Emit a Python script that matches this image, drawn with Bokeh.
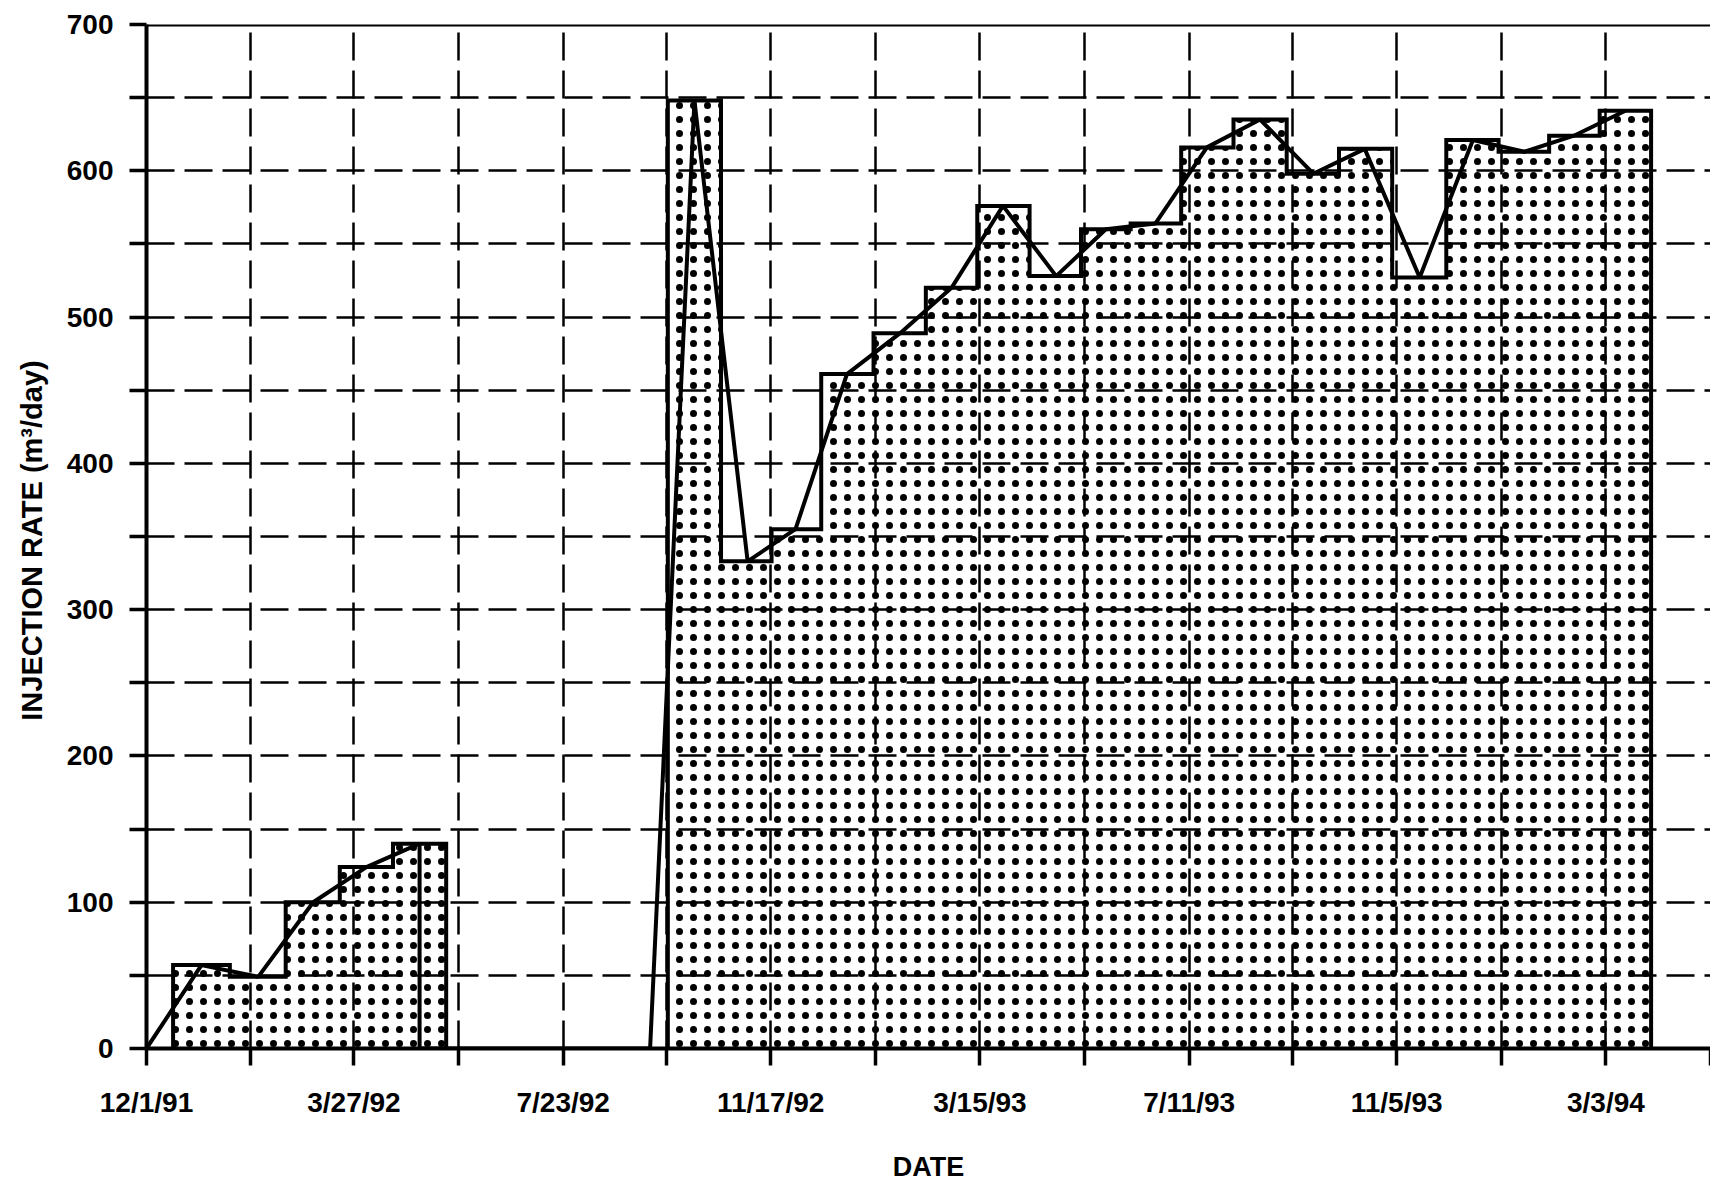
import pandas as pd
from bokeh.plotting import figure
from bokeh.models import FixedTicker, Span, Range1d
from bokeh.embed import file_html
from bokeh.resources import INLINE

# ---------------- data ----------------
origin_date = "1991-12-01"          # left end of the date axis
axis_end_date = "1994-05-01"        # right end of the date axis
tick_labels = ["12/1/91", "3/27/92", "7/23/92", "11/17/92",
               "3/15/93", "7/11/93", "11/5/93", "3/3/94"]

# first injection period (monthly rates, m3/day)
seg1_dates = ["1992-01-01", "1992-02-02", "1992-03-04", "1992-04-03", "1992-05-03"]
seg1_rates = [57, 49, 100, 124, 140]

# second injection period
seg2_dates = ["1992-10-05", "1992-11-04", "1992-12-01", "1992-12-30", "1993-01-29",
              "1993-02-27", "1993-03-28", "1993-04-27", "1993-05-25", "1993-06-22",
              "1993-07-21", "1993-08-20", "1993-09-19", "1993-10-18", "1993-11-18",
              "1993-12-18", "1994-01-16", "1994-02-13", "1994-03-14"]
seg2_rates = [648, 333, 355, 461, 489, 520, 576, 528, 560, 564,
              616, 635, 598, 615, 527, 621, 613, 624, 641]

# zero-rate points of the trend line before each period
zero_dates = ["1991-12-01", "1992-09-10"]

y_max = 700
y_step = 50
y_label_step = 100

# ---------------- helpers ----------------
t0 = pd.Timestamp(origin_date)


def day(d):
    return float((pd.Timestamp(d) - t0).days)


def label_day(s):
    return float((pd.to_datetime(s, format="%m/%d/%y") - t0).days)


def step_outline(days, rates):
    edges = ([days[0] - (days[1] - days[0]) / 2]
             + [(a + b) / 2 for a, b in zip(days[:-1], days[1:])]
             + [days[-1] + (days[-1] - days[-2]) / 2])
    xs, ys = [edges[0]], [0]
    for i, r in enumerate(rates):
        xs += [edges[i], edges[i + 1]]
        ys += [r, r]
    xs.append(edges[-1])
    ys.append(0)
    return xs, ys


s1 = [day(d) for d in seg1_dates]
s2 = [day(d) for d in seg2_dates]
x_end = day(axis_end_date)

o1x, o1y = step_outline(s1, seg1_rates)
o2x, o2y = step_outline(s2, seg2_rates)

line_x = [day(zero_dates[0])] + s1 + [s1[-1], day(zero_dates[1])] + s2
line_y = [0] + seg1_rates + [0, 0] + seg2_rates

lab_days = [label_day(s) for s in tick_labels]
mid_days = [(a + b) / 2 for a, b in zip(lab_days[:-1], lab_days[1:])]
x_ticks = sorted(lab_days + mid_days + [x_end])
x_over = {t: "" for t in x_ticks}
for t, s in zip(lab_days, tick_labels):
    x_over[t] = s

y_ticks = list(range(0, y_max + 1, y_step))
y_over = {t: (str(t) if t % y_label_step == 0 else "") for t in y_ticks}

# ---------------- figure ----------------
FONT = "Liberation Sans"
p = figure(width=1710, height=1184, x_range=Range1d(0, x_end), y_range=Range1d(0, y_max),
           output_backend="svg", toolbar_location=None,
           min_border_left=146, min_border_right=0, min_border_top=24, min_border_bottom=134)
p.outline_line_color = None
p.background_fill_color = "white"

for ax, ticks, over in ((p.xaxis[0], x_ticks, x_over), (p.yaxis[0], y_ticks, y_over)):
    ax.ticker = FixedTicker(ticks=ticks)
    ax.major_label_overrides = over
    ax.axis_line_width = 4
    ax.axis_line_color = "black"
    ax.major_tick_line_width = 3.5
    ax.major_tick_line_color = "black"
    ax.major_tick_out = 17
    ax.major_tick_in = 0
    ax.minor_tick_line_color = None
    ax.major_label_text_font = FONT
    ax.major_label_text_font_style = "bold"
    ax.major_label_text_font_size = "28px"
    ax.major_label_text_color = "black"
    ax.axis_label_text_font = FONT
    ax.axis_label_text_font_style = "bold"
    ax.axis_label_text_color = "black"

p.xaxis.axis_label = "DATE"
p.xaxis.axis_label_text_font_size = "27px"
p.xaxis.major_label_standoff = 21
p.xaxis.axis_label_standoff = 31
p.yaxis.axis_label = "INJECTION RATE  (m\u00b3/day)"
p.yaxis.axis_label_text_font_size = "29px"
p.yaxis.major_label_standoff = 16
p.yaxis.axis_label_standoff = 16

for g in (p.xgrid[0], p.ygrid[0]):
    g.grid_line_color = "black"
    g.grid_line_width = 2.5
    g.grid_line_dash = "28 10"

# stippled stepped area
p.patches(xs=[o1x, o2x], ys=[o1y, o2y], fill_alpha=0, line_color=None,
          hatch_pattern="dot", hatch_scale=14, hatch_weight=0.8, hatch_color="black")
p.multi_line(xs=[o1x, o2x], ys=[o1y, o2y], line_color="black", line_width=4,
             line_join="miter")
# trend line
p.line(line_x, line_y, line_color="black", line_width=4)

p.add_layout(Span(location=y_max, dimension="width", line_color="black", line_width=4))

open("out.html", "w").write(file_html(p, INLINE))
